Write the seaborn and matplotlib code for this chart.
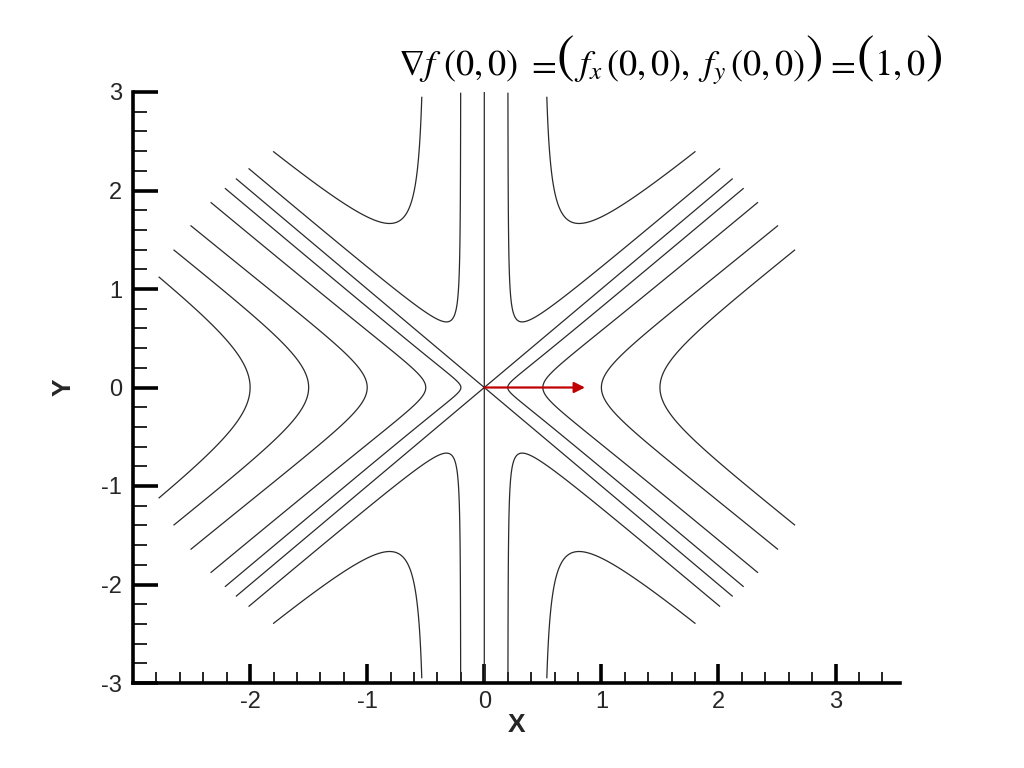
import numpy as np
import matplotlib
matplotlib.use("Agg")
import matplotlib.pyplot as plt
from matplotlib.ticker import MultipleLocator
import seaborn as sns

# ---- data ----
contour_levels = [-2.0, -1.5, -1.0, -0.5, -0.2, 0.0, 0.2, 0.5, 1.0, 1.5]
domain_radius = 3.0
x_ticks = [-2, -1, 0, 1, 2, 3]
y_ticks = [-3, -2, -1, 0, 1, 2, 3]
gradient_at_origin = [1.0, 0.0]   # (f_x(0,0), f_y(0,0))
arrow_scale = 0.86
# title pieces: (text, big-paren?, gap after in pixels)
title_pieces = [
    (r'$\nabla f\ (0,0)$', False, 8),
    (r'$=$', False, 0),
    (r'$($', True, 0),
    (r'$f_x\,(0,0),$', False, 8),
    (r'$f_y\,(0,0)$', False, 0),
    (r'$)$', True, 3),
    (r'$=$', False, 0),
    (r'$($', True, 0),
    (r'$1,0$', False, 0),
    (r'$)$', True, 0),
]

sns.set_theme(style="white")
plt.rcParams['font.family'] = ['Liberation Sans', 'DejaVu Sans']
plt.rcParams['mathtext.fontset'] = 'stix'
plt.rcParams['contour.negative_linestyle'] = 'solid'

# f(x,y) = x (x^2 - y^2) / (x^2 + y^2) on a disk (polar grid)
r = np.linspace(0, domain_radius, 500)
th = np.linspace(0, 2 * np.pi, 1000)
R, TH = np.meshgrid(r, th)
X = R * np.cos(TH)
Y = R * np.sin(TH)
Z = R * np.cos(TH) * np.cos(2 * TH)

fig = plt.figure(figsize=(10.24, 7.68), dpi=100)
ax = fig.add_axes([133 / 1024, 85 / 768, 767 / 1024, 591 / 768])

ax.contour(X, Y, Z, levels=contour_levels, colors='#2a2a2a', linewidths=0.9,
           linestyles='solid')

ax.annotate('', xy=(arrow_scale * gradient_at_origin[0], arrow_scale * gradient_at_origin[1]),
            xytext=(0, 0),
            arrowprops=dict(arrowstyle='-|>', color='#c00000', lw=1.6,
                            mutation_scale=16, shrinkA=0, shrinkB=0))

ax.set_xlim(-3, 3.55)
ax.set_ylim(-3, 3)
ax.set_xticks(x_ticks)
ax.set_yticks(y_ticks)
ax.set_xticklabels([str(t) for t in x_ticks])
ax.set_yticklabels([str(t) for t in y_ticks])
ax.xaxis.set_minor_locator(MultipleLocator(0.2))
ax.yaxis.set_minor_locator(MultipleLocator(0.2))

sns.despine(ax=ax)
for s in ['left', 'bottom']:
    ax.spines[s].set_linewidth(2.6)
    ax.spines[s].set_color('black')

ax.tick_params(axis='x', which='major', direction='in', length=14, width=2.6,
               labelsize=17, pad=6, color='black', bottom=True)
ax.tick_params(axis='x', which='minor', direction='in', length=8, width=1.2,
               color='black', bottom=True)
ax.tick_params(axis='y', which='major', direction='in', length=18, width=2.6,
               labelsize=17, pad=8, color='black', left=True)
ax.tick_params(axis='y', which='minor', direction='in', length=10, width=1.2,
               color='black', left=True)

ax.set_xlabel('X', fontsize=19, fontweight='bold', labelpad=0)
ax.set_ylabel('Y', fontsize=19, fontweight='bold', labelpad=18)

# title composed of pieces laid out left to right, big parentheses larger
renderer = fig.canvas.get_renderer()
texts = []
for s, big, gap in title_pieces:
    if big:
        t = fig.text(0, 1 - 72 / 768, s, fontsize=38, ha='left', va='baseline', color='black')
    else:
        t = fig.text(0, 1 - 75 / 768, s, fontsize=26, ha='left', va='baseline', color='black')
    texts.append((t, gap))
widths = [t.get_window_extent(renderer).width for t, _ in texts]
total = sum(widths) + sum(g for _, g in texts[:-1])
xpx = 670 - total / 2
for (t, gap), w in zip(texts, widths):
    t.set_x(xpx / 1024)
    xpx += w + gap

fig.savefig('out.png', dpi=100)
